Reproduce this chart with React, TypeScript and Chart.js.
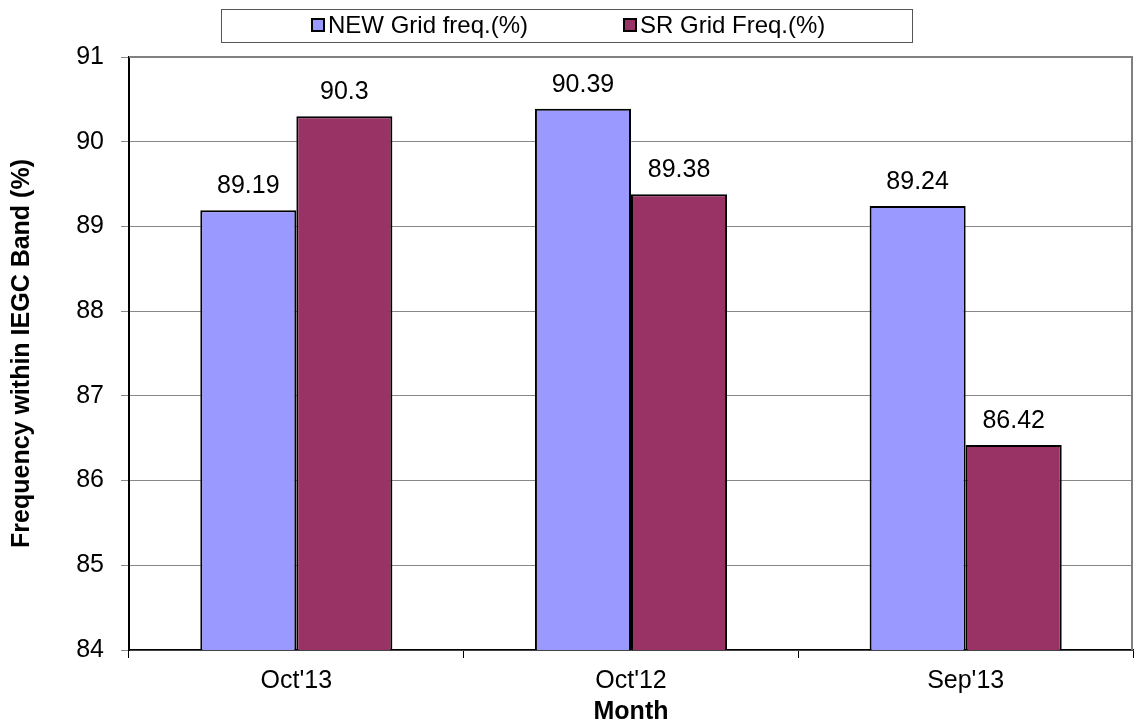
import React, { useEffect, useRef } from "react";
import { Chart, registerables } from "chart.js";

Chart.register(...registerables);

const categories: string[] = ["Oct'13", "Oct'12", "Sep'13"];
const newGridFreq: number[] = [89.19, 90.39, 89.24];
const srGridFreq: number[] = [90.3, 89.38, 86.42];
const seriesNames: string[] = ["NEW Grid freq.(%)", "SR Grid Freq.(%)"];
const seriesColors: string[] = ["#9999FF", "#993366"];
const yTitle = "Frequency within IEGC Band (%)";
const xTitle = "Month";
const yMin = 84;
const yMax = 91;

const FONT = "'Liberation Sans', Arial, Helvetica, sans-serif";

const labelPlugin = {
  id: "valueLabels",
  afterDatasetsDraw(chart: any) {
    const ctx = chart.ctx;
    ctx.save();
    ctx.font = `25px ${FONT}`;
    ctx.fillStyle = "#000";
    ctx.textAlign = "center";
    ctx.textBaseline = "alphabetic";
    chart.data.datasets.forEach((ds: any, di: number) => {
      const meta = chart.getDatasetMeta(di);
      meta.data.forEach((el: any, i: number) => {
        ctx.fillText(String(ds.data[i]), el.x, el.y - 17);
      });
    });
    ctx.restore();
  },
};

const framePlugin = {
  id: "frameAndLegend",
  afterDraw(chart: any) {
    const ctx = chart.ctx;
    const a = chart.chartArea;
    ctx.save();
    ctx.strokeStyle = "#808080";
    ctx.lineWidth = 2;
    ctx.beginPath();
    ctx.moveTo(a.left, a.top);
    ctx.lineTo(a.right - 1, a.top);
    ctx.lineTo(a.right - 1, a.bottom);
    ctx.stroke();

    ctx.strokeStyle = "#555";
    ctx.lineWidth = 1;
    ctx.strokeRect(221.5, 9.5, 691, 33);
    const squareX = [311, 623];
    ctx.font = `24px ${FONT}`;
    ctx.textAlign = "left";
    ctx.textBaseline = "alphabetic";
    seriesNames.forEach((name, i) => {
      const sx = squareX[i];
      ctx.fillStyle = seriesColors[i];
      ctx.fillRect(sx, 18, 14, 14);
      ctx.strokeStyle = "#000";
      ctx.lineWidth = 2;
      ctx.strokeRect(sx + 1, 19, 12, 12);
      ctx.fillStyle = "#000";
      ctx.fillText(name, sx + 17, 33);
    });
    ctx.restore();
  },
};

export default function App() {
  const canvasRef = useRef<HTMLCanvasElement | null>(null);

  useEffect(() => {
    if (!canvasRef.current) return;
    const chart = new Chart(canvasRef.current, {
      type: "bar",
      data: {
        labels: categories,
        datasets: [
          {
            label: seriesNames[0],
            data: newGridFreq,
            backgroundColor: seriesColors[0],
            borderColor: "#000",
            borderWidth: 2,
            categoryPercentage: 0.574,
            barPercentage: 1,
          },
          {
            label: seriesNames[1],
            data: srGridFreq,
            backgroundColor: seriesColors[1],
            borderColor: "#000",
            borderWidth: 2,
            categoryPercentage: 0.574,
            barPercentage: 1,
          },
        ],
      },
      options: {
        animation: false,
        responsive: true,
        maintainAspectRatio: false,
        layout: { padding: { top: 57, right: 3, left: 0, bottom: 0 } },
        plugins: {
          legend: { display: false },
          tooltip: { enabled: false },
        },
        scales: {
          x: {
            afterFit: (scale: any) => {
              scale.height = 75;
            },
            grid: {
              drawOnChartArea: false,
              drawTicks: true,
              tickLength: 8,
              color: "#000",
              offset: true,
            },
            border: { color: "#000", width: 1.5 },
            ticks: {
              color: "#000",
              padding: 8,
              font: { family: FONT, size: 25 },
            },
            title: {
              display: true,
              text: xTitle,
              color: "#000",
              font: { family: FONT, size: 25, weight: "bold", lineHeight: 1 },
              padding: { top: 0, bottom: 0 },
            },
          },
          y: {
            min: yMin,
            max: yMax,
            afterFit: (scale: any) => {
              scale.width = 129;
            },
            ticks: {
              stepSize: 1,
              color: "#000",
              padding: 17,
              font: { family: FONT, size: 25 },
            },
            grid: {
              color: "#888",
              lineWidth: 1,
              tickLength: 8,
              drawTicks: true,
            },
            border: { color: "#000", width: 2 },
            title: {
              display: true,
              text: yTitle,
              color: "#000",
              font: { family: FONT, size: 25, weight: "bold", lineHeight: 1 },
              padding: { top: 9.5, bottom: 0 },
            },
          },
        },
      },
      plugins: [labelPlugin, framePlugin],
    });
    return () => chart.destroy();
  }, []);

  return (
    <div
      style={{
        position: "fixed",
        left: 0,
        top: 0,
        width: 1136,
        height: 725,
        background: "#fff",
      }}
    >
      <canvas ref={canvasRef} />
    </div>
  );
}
